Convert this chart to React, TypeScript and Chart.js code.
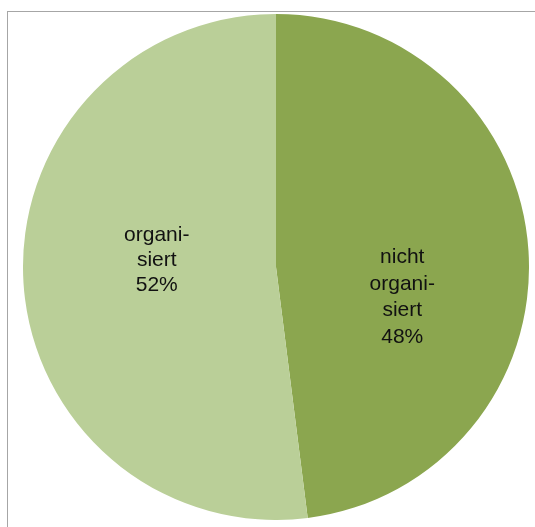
import React, { useEffect, useRef } from "react";
import { Chart, registerables } from "chart.js";

Chart.register(...registerables);

const categories: string[] = ["nicht organisiert", "organisiert"];
const values: number[] = [48, 52];
const labelLines: string[][] = [
  ["nicht", "organi-", "siert", "48%"],
  ["organi-", "siert", "52%"],
];
const colors: string[] = ["#8ba64f", "#bacf98"];

const labelPlugin = {
  id: "sliceLabels",
  afterDatasetsDraw(chart: any) {
    const ctx = chart.ctx;
    const meta = chart.getDatasetMeta(0);
    ctx.save();
    ctx.font = "21px 'Liberation Sans', Arial, sans-serif";
    ctx.fillStyle = "#111";
    ctx.textAlign = "center";
    ctx.textBaseline = "middle";
    const lineHs = [26.5, 25];
    const shifts = [38, -15];
    const xshifts = [0, 7];
    meta.data.forEach((arc: any, i: number) => {
      const { x, y, startAngle, endAngle, outerRadius } = arc.getProps(
        ["x", "y", "startAngle", "endAngle", "outerRadius"],
        true
      );
      const mid = (startAngle + endAngle) / 2;
      const r = outerRadius * 0.5;
      const cx = x + Math.cos(mid) * r + xshifts[i];
      const cy = y + Math.sin(mid) * r + shifts[i];
      const lines = labelLines[i];
      const lineH = lineHs[i];
      const top = cy - ((lines.length - 1) * lineH) / 2;
      lines.forEach((t, k) => ctx.fillText(t, cx, top + k * lineH));
    });
    ctx.restore();
  },
};

export default function App() {
  const ref = useRef<HTMLCanvasElement | null>(null);
  useEffect(() => {
    if (!ref.current) return;
    const chart = new Chart(ref.current, {
      type: "pie",
      data: {
        labels: categories,
        datasets: [
          {
            data: values,
            backgroundColor: colors,
            borderWidth: 0,
          },
        ],
      },
      options: {
        animation: false,
        responsive: false,
        maintainAspectRatio: false,
        layout: { padding: 0 },
        plugins: {
          legend: { display: false },
          tooltip: { enabled: false },
        },
      },
      plugins: [labelPlugin],
    });
    return () => chart.destroy();
  }, []);
  return (
    <div>
      <div
        style={{
          position: "fixed",
          left: 7,
          top: 11,
          width: 700,
          height: 700,
          border: "1px solid #a6a6a6",
          background: "#fff",
        }}
      />
      <canvas
        ref={ref}
        width={506}
        height={506}
        style={{ position: "fixed", left: 23, top: 14, width: 506, height: 506 }}
      />
    </div>
  );
}
